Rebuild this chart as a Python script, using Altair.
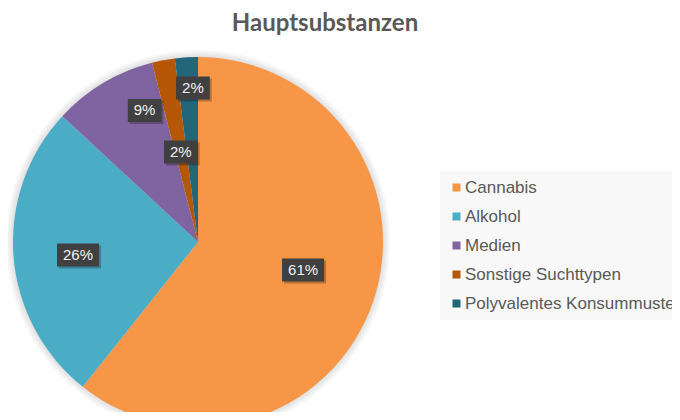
import altair as alt
import pandas as pd

# ---- data ----
categories = ["Cannabis", "Alkohol", "Medien", "Sonstige Suchttypen", "Polyvalentes Konsummuster"]
shares = [60.7, 26.2, 9.1, 2.0, 2.0]
colors = ["#F79646", "#4BACC6", "#8064A2", "#B65708", "#23667A"]

df = pd.DataFrame({"cat": categories, "value": shares, "ord": list(range(len(categories)))})

# ---- layout constants ----
PAD_TOP = 40
W, H = 664, 404 - PAD_TOP
CX, CY = 190, 194          # pie centre in plot coordinates
R = 185

# label placement (radius in px, angular nudge in degrees) per category
label_r = {"Cannabis": 108.7, "Alkohol": 120.7, "Medien": 142, "Sonstige Suchttypen": 91.6,
           "Polyvalentes Konsummuster": 154.1}
label_nudge = {"Cannabis": -4.4, "Alkohol": -1.9, "Medien": 8.7, "Sonstige Suchttypen": 0.0,
               "Polyvalentes Konsummuster": 1.7}


def ternary(d):
    expr = "0"
    for k, v in d.items():
        expr = f"datum.cat === '{k}' ? {v} : ({expr})"
    return expr


base = alt.Chart(df)

# soft shadow behind the pie
shadow_layers = [
    alt.Chart(pd.DataFrame({"a": [0]})).mark_arc(
        theta=0, theta2=6.2832, radius=R + d, color="#000000", opacity=0.03
    ).encode(x=alt.value(CX), y=alt.value(CY))
    for d in (1, 3, 5, 7)
]

pie = base.mark_arc(radius=R).encode(
    theta=alt.Theta("value:Q", stack=True),
    order=alt.Order("ord:Q"),
    color=alt.Color(
        "cat:N",
        scale=alt.Scale(domain=categories, range=colors),
        sort=categories,
        legend=alt.Legend(
            title=None,
            orient="none",
            legendX=432,
            legendY=123,
            direction="vertical",
            fillColor="#f8f8f8",
            padding=8,
            symbolType="square",
            symbolSize=64,
            symbolStrokeWidth=0,
            labelFont="Liberation Sans",
            labelFontSize=17,
            labelColor="#595959",
            labelOffset=0,
            labelLimit=400,
            rowPadding=11,
        ),
    ),
    x=alt.value(CX),
    y=alt.value(CY),
)

lab = base.transform_window(
    cum="sum(value)", sort=[alt.SortField("ord")], frame=[None, 0]
).transform_joinaggregate(
    total="sum(value)"
).transform_calculate(
    lr=ternary(label_r),
    nudge=ternary(label_nudge),
).transform_calculate(
    ang="(datum.cum - datum.value / 2) / datum.total * 2 * PI + datum.nudge * PI / 180",
    label="format(round(datum.value), 'd') + '%'",
).transform_calculate(
    lx=f"{CX} + datum.lr * sin(datum.ang)",
    ly=f"{CY} - datum.lr * cos(datum.ang)",
    bw="15 * (0.556 * (length(datum.label) - 1) + 0.889) + 12",
).transform_calculate(
    bx="datum.lx - datum.bw / 2",
    bx2="datum.lx + datum.bw / 2",
    by="datum.ly - 11.5",
    by2="datum.ly + 11.5",
    sx="datum.lx - datum.bw / 2 + 2",
    sx2="datum.lx + datum.bw / 2 + 2",
    sy="datum.ly - 11.5 + 2",
    sy2="datum.ly + 11.5 + 2",
)

box_shadow = lab.mark_rect(color="#000000", opacity=0.25).encode(
    x=alt.X("sx:Q", scale=None, axis=None), x2="sx2:Q",
    y=alt.Y("sy:Q", scale=None, axis=None), y2="sy2:Q",
)
boxes = lab.mark_rect(color="#404040").encode(
    x=alt.X("bx:Q", scale=None, axis=None), x2="bx2:Q",
    y=alt.Y("by:Q", scale=None, axis=None), y2="by2:Q",
)
texts = lab.mark_text(
    font="Liberation Sans", fontSize=15, color="#f2f2f2", align="center", baseline="middle"
).encode(
    x=alt.X("lx:Q", scale=None, axis=None),
    y=alt.Y("ly:Q", scale=None, axis=None),
    text="label:N",
)

chart = alt.layer(*shadow_layers, pie, box_shadow, boxes, texts).properties(
    width=W,
    height=H,
    background="#ffffff",
    autosize=alt.AutoSizeParams(type="none"),
    padding={"left": 0, "right": 0, "top": PAD_TOP, "bottom": 0},
    title=alt.TitleParams(
        "Hauptsubstanzen",
        font="Lato",
        fontSize=24,
        fontWeight="bold",
        color="#595959",
        anchor="middle",
        dx=-15,
        offset=12,
    ),
).configure_view(strokeWidth=0, stroke="transparent")

chart.save("out.html", embed_options={"renderer": "svg", "actions": False})
